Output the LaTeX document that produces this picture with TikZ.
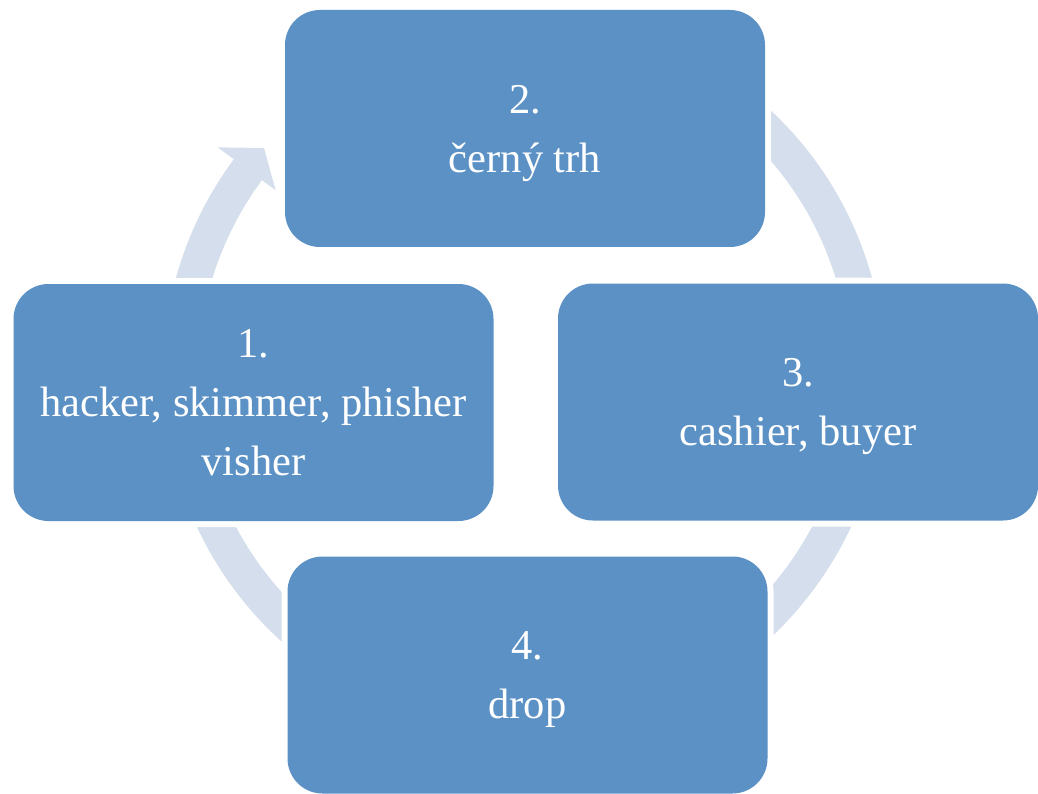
\documentclass[tikz,border=0pt]{standalone}
\usepackage{fontspec}
\setmainfont{Liberation Serif}
\usetikzlibrary{calc}
\definecolor{boxblue}{HTML}{5B91C5}
\definecolor{ringblue}{HTML}{D5DEEC}
\begin{document}
\begin{tikzpicture}[x=1pt,y=1pt,
  stagebox/.style={fill=boxblue, rounded corners=35pt, minimum width=480pt,
    minimum height=237pt, inner sep=0pt, text=white, align=center,
    text depth=0pt,
    font=\fontsize{42.5}{59}\selectfont,
    preaction={draw=white, line width=12pt}},
  ringfill/.style={fill=ringblue, draw=none}]
\useasboundingbox (0,0) rectangle (1038,-794);
\coordinate (c) at (524,-374);
% circular arrow (ring)
\path[ringfill] ($(c)+(143.5:361)$) arc[start angle=143.5,end angle=460,radius=361]
  -- ($(c)+(460:326)$) arc[start angle=460,end angle=143.5,radius=326] -- cycle;
\path[ringfill] ($(c)+(143.5:381)$) -- ($(c)+(139:344.5)$) -- ($(c)+(143.5:309)$) -- cycle;
% stages
\node[stagebox] (s2) at (525,-128.5) {2.\\černý trh};
\node[stagebox] (s1) at (253.5,-402.5) {1.\\hacker, skimmer, phisher\\visher};
\node[stagebox] (s3) at (798,-402) {3.\\cashier, buyer};
\node[stagebox] (s4) at (527.5,-675) {4.\\drop};
\end{tikzpicture}
\end{document}
